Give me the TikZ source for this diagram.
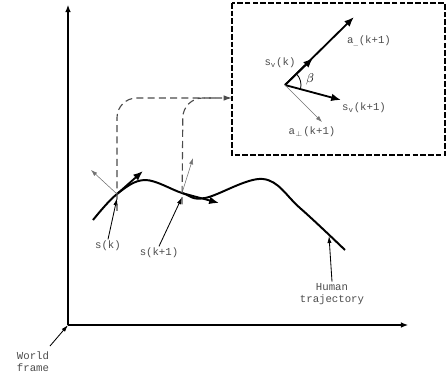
\documentclass[tikz,border=0pt]{standalone}
\usepackage{fontspec}
\setmonofont{Liberation Mono}
\usetikzlibrary{arrows.meta}
\begin{document}
\begin{tikzpicture}[
  x=0.025cm, y=-0.025cm,
  lbl/.style={font={\ttfamily\fontsize{7.6}{8.6}\selectfont}, text=black!70, inner sep=1pt, align=center},
  axis/.style={line width=0.8pt, -{Latex[length=5pt,width=4pt]}},
  traj/.style={line width=1.4pt},
  vel/.style={line width=1.3pt, -{Latex[length=7pt,width=5.5pt]}},
  perp/.style={line width=0.4pt, black!55, -{Latex[length=4.5pt,width=3pt]}},
  pointer/.style={line width=0.6pt, -{Latex[length=5pt,width=3pt]}},
  proj/.style={line width=0.8pt, black!70, dash pattern=on 5pt off 3pt, rounded corners=14pt}
]
\useasboundingbox (0,0) rectangle (448,376);
% world frame
\coordinate (o) at (68,325);
\coordinate (ytop) at (68,5);
\coordinate (xend) at (408,325);
\draw[axis] (o) -- (ytop);
\draw[axis] (o) -- (xend);
\node[lbl] (wf) at (33,362) {World\\frame};
\draw[pointer] (50,346) -- (o);
% human trajectory
\coordinate (sk) at (117,194);
\coordinate (sk1) at (182,193);
\draw[traj] plot[smooth, tension=0.6] coordinates {(93,220) (sk) (145,180) (sk1) (205,198) (263,179) (300,208) (345,250)};
\coordinate (ht) at (329,236);
\draw[vel] (sk) -- (143,171);
\draw[perp] (sk) -- (91,170);
\draw[vel] (sk1) -- (219,203);
\draw[perp] (sk1) -- (193,158);
\node[lbl] (lsk) at (108,246) {s(k)};
\node[lbl] (lsk1) at (159,253) {s(k+1)};
\node[lbl] (lht) at (332,294) {Human\\trajectory};
\draw[pointer] (lsk.north) -- ([yshift=-3]sk);
\draw[pointer] (lsk1.north) -- ([yshift=-3]sk1);
\draw[pointer] (lht.north) -- (ht);
% zoomed view
\draw[line width=1.3pt, dash pattern=on 4pt off 1.5pt] (232,3) rectangle (445,155);
\coordinate (boxin) at (232,98);
\draw[proj, -{Latex[length=6pt,width=4pt]}] ([yshift=-12]sk) -- (117,98) -- (boxin);
\draw[proj] ([yshift=-8]sk1) -- (183,98) -- (215,98);
\coordinate (c) at (285,85);
\coordinate (sv) at (313,58);
\coordinate (apar) at (354,17);
\coordinate (sv1) at (341,100);
\coordinate (aperp) at (322,122);
\draw[vel] (c) -- (apar);
\draw[vel] (c) -- (sv);
\draw[vel] (c) -- (sv1);
\draw[perp] (c) -- (aperp);
\draw[line width=0.6pt] ([shift={(-44:16)}]c) arc[start angle=44, end angle=-15, radius=0.4cm];
\node[font=\small] (beta) at (310,79) {$\beta$};
\node[lbl] (lapar) at (369,41) {a\textsubscript{\_}(k+1)};
\node[lbl] (lsv) at (280,63) {s\textsubscript{v}(k)};
\node[lbl] (lsv1) at (364,108) {s\textsubscript{v}(k+1)};
\node[lbl] (laperp) at (312,132) {a\textsubscript{$\perp$}(k+1)};
\end{tikzpicture}
\end{document}
